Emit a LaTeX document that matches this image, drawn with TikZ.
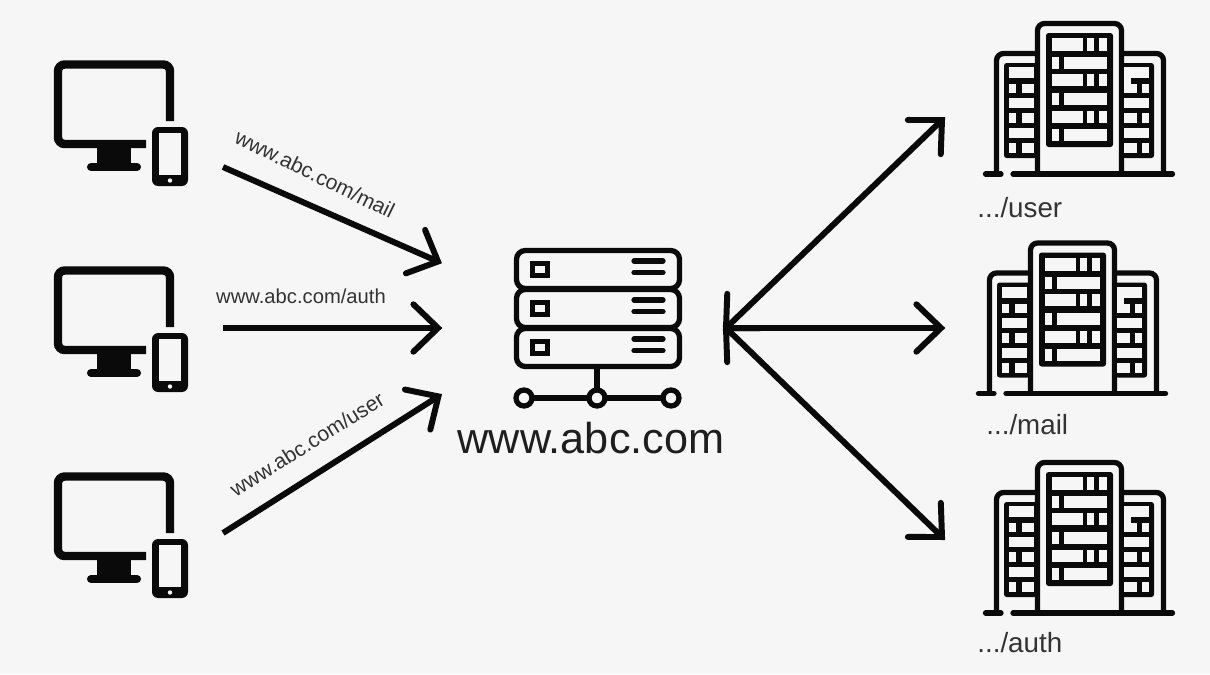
\documentclass[tikz,border=0pt]{standalone}
\usepackage{fontspec}
\setmainfont{Liberation Sans}
\usetikzlibrary{arrows.meta}
\definecolor{pagebg}{HTML}{F6F6F6}
\definecolor{iconcol}{HTML}{0A0A0A}
\definecolor{urlcol}{HTML}{333333}
\definecolor{sitecol}{HTML}{1E1E1E}
\pgfdeclarearrow{
  name=Chevron,
  parameters={\the\pgfarrowlength,\the\pgfarrowwidth},
  setup code={
    \pgfarrowssettipend{0pt}
    \pgfarrowssetlineend{-1pt}
    \pgfarrowssetbackend{-\pgfarrowlength}
    \pgfarrowssavethe\pgfarrowlength
    \pgfarrowssavethe\pgfarrowwidth
  },
  drawing code={
    \pgfsetdash{}{0pt}
    \pgfsetroundcap
    \pgfsetmiterjoin
    \pgfpathmoveto{\pgfqpoint{-\pgfarrowlength}{0.5\pgfarrowwidth}}
    \pgfpathlineto{\pgfpointorigin}
    \pgfpathlineto{\pgfqpoint{-\pgfarrowlength}{-0.5\pgfarrowwidth}}
    \pgfusepathqstroke
  },
  defaults={length=14pt,width=27pt}
}

\begin{document}
\begin{tikzpicture}[
    x=0.02cm, y=-0.02cm,
    arr/.style={-{Chevron}, iconcol, line width=3.4pt},
    twoarr/.style={{Chevron}-{Chevron}, iconcol, line width=3.4pt},
    urllabel/.style={font=\fontsize{11.5}{14}\selectfont, text=urlcol, inner sep=0pt},
    tiltlabel/.style={urllabel, font=\fontsize{12}{14}\selectfont},
    pathlabel/.style={font=\fontsize{15.8}{19}\selectfont, text=urlcol, inner sep=0pt, anchor=base west},
    sitelabel/.style={font=\fontsize{24.6}{29}\selectfont, text=sitecol, inner sep=0pt, anchor=base},
    iconline/.style={draw=iconcol, line width=3pt},
    monitorline/.style={draw=iconcol, line width=4.8pt, rounded corners=3.8pt},
    client/.pic={
      \draw[monitorline] (170,121) -- (170,64.5) -- (58,64.5) -- (58,144) -- (146,144);
      \fill[iconcol] (97,146) rectangle (131,165);
      \draw[iconcol, line width=4.6pt, line cap=round] (91,167) -- (137,167);
      % phone
      \fill[iconcol, rounded corners=3.5pt] (152,127) rectangle (188,186);
      \fill[pagebg] (159,133) rectangle (181,175);
      \fill[pagebg] (170,180.5) circle (2.2);
    },
    building/.pic={
      % outer walls
      \draw[iconline, rounded corners=4pt] (1037.5,174) -- (1037.5,23.5) -- (1121.5,23.5) -- (1121.5,174);
      \draw[iconline, rounded corners=4pt] (996.5,174) -- (996.5,53.5) -- (1037.5,53.5);
      \draw[iconline, rounded corners=4pt] (1121.5,53.5) -- (1163.5,53.5) -- (1163.5,174);
      % ground
      \draw[iconline, line cap=round] (985.5,174) -- (1001,174);
      \draw[iconline, line cap=round] (1013,174) -- (1172.5,174);
      % middle block windows
      \fill[iconcol, rounded corners=1.5pt] (1046,33) rectangle (1113,147);
      \foreach \ya/\yb in {38/51,74/86,111/123} {
        \fill[pagebg] (1052,\ya) rectangle (1083,\yb);
        \fill[pagebg] (1087,\ya) rectangle (1094,\yb);
        \fill[pagebg] (1099,\ya) rectangle (1107,\yb);
      }
      \foreach \ya/\yb in {57/69,93/105,129/141} {
        \fill[pagebg] (1052,\ya) rectangle (1059,\yb);
        \fill[pagebg] (1064,\ya) rectangle (1107,\yb);
      }
      % side blocks windows
      \fill[iconcol, rounded corners=1.5pt] (1004,63) rectangle (1037,158);
      \fill[iconcol, rounded corners=1.5pt] (1122,63) rectangle (1154,158);
      \foreach \ya/\yb in {67/78,98/108,128/138} {
        \fill[pagebg] (1009,\ya) rectangle (1034,\yb);
        \fill[pagebg] (1124,\ya) rectangle (1149,\yb);
      }
      \foreach \ya/\yb in {84/93,113/123,143/153} {
        \fill[pagebg] (1009,\ya) rectangle (1016,\yb);
        \fill[pagebg] (1022,\ya) rectangle (1034,\yb);
        \fill[pagebg] (1124,\ya) rectangle (1137,\yb);
        \fill[pagebg] (1142,\ya) rectangle (1149,\yb);
      }
      \fill[pagebg] (1124,77) rectangle (1131,85);
    },
    server/.pic={
      \foreach \dy in {0,39,78} {
        \draw[iconline, rounded corners=5pt] (516.5,250.5+\dy) rectangle (679.5,288.5+\dy);
        \draw[iconline] (532.5,263.5+\dy) rectangle (547.5,275.5+\dy);
        \draw[iconline, line cap=round] (634,261+\dy) -- (663,261+\dy);
        \draw[iconline, line cap=round] (634,272.5+\dy) -- (663,272.5+\dy);
      }
      \draw[iconline] (597,369) -- (597,398);
      \draw[iconline] (524,398) -- (671,398);
      \foreach \cx in {524,597,671} {
        \draw[iconline, fill=pagebg] (\cx,398) circle (8);
      }
    },
  ]

  % background
  \fill[pagebg] (0,0) rectangle (1210,674);

  % =================== CLIENTS ===================
  \pic (clienta) at (0,0) {client};
  \pic (clientb) at (0,206) {client};
  \pic (clientc) at (0,412) {client};

  \coordinate (froma) at (223,167);
  \coordinate (fromb) at (223,328);
  \coordinate (fromc) at (223,533);
  \coordinate (toa) at (438,261.5);
  \coordinate (tob) at (438,328);
  \coordinate (toc) at (438.4,396.4);

  \draw[arr] (froma) -- (toa);
  \draw[arr] (fromb) -- (tob);
  \draw[arr] (fromc) -- (toc);

  \node[tiltlabel, rotate=-26] (urlmail) at (315,174) {www.abc.com/mail};
  \node[urllabel] (urlauth) at (301,296) {www.abc.com/auth};
  \node[tiltlabel, rotate=32] (urluser) at (307,444) {www.abc.com/user};

  % =================== SITE ===================
  \pic (site) at (0,0) {server};
  \node[sitelabel] (sitename) at (591,453) {www.abc.com};

  % =================== BACKENDS ===================
  \pic (backa) at (0,0) {building};
  \pic (backb) at (-7,219.5) {building};
  \pic (backc) at (0,439) {building};

  \node[pathlabel] (pathuser) at (977,217) {.../user};
  \node[pathlabel] (pathmail) at (986,434) {.../mail};
  \node[pathlabel] (pathauth) at (977,652) {.../auth};

  \coordinate (hub) at (726,328);
  \coordinate (toback1) at (942,120);
  \coordinate (toback2) at (941,328);
  \coordinate (toback3) at (942,537);

  \draw[twoarr] (hub) -- (toback1);
  \draw[arr] (hub) -- (toback2);
  \draw[twoarr] (hub) -- (toback3);

\end{tikzpicture}
\end{document}
